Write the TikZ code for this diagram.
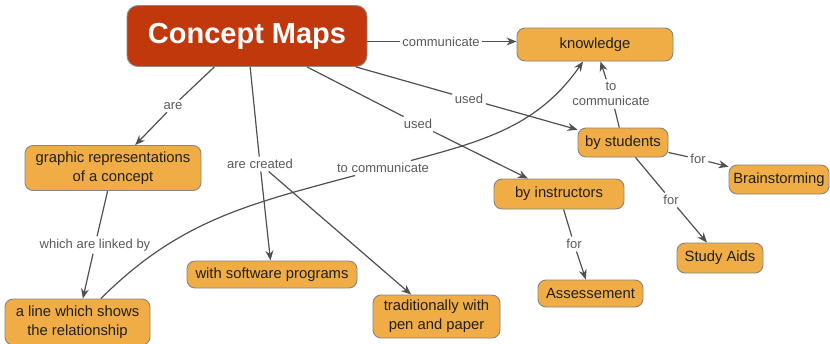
\documentclass[tikz,border=0pt]{standalone}
\usepackage{fontspec}
\setmainfont{Liberation Sans}
\usetikzlibrary{arrows.meta}
\definecolor{conc}{HTML}{F0AD45}
\definecolor{cmred}{HTML}{C1380C}
\definecolor{edgec}{HTML}{505050}
\definecolor{lbl}{HTML}{5A5A5A}
\definecolor{bord}{HTML}{858585}
\begin{document}
\begin{tikzpicture}[x=1pt,y=1pt,
 concept/.style={draw=bord, line width=0.9pt, fill=conc, rounded corners=8pt, inner sep=0pt, align=center, font=\fontsize{14.8}{19}\selectfont, text=black!88},
 link/.style={inner sep=2.5pt, align=center, font=\fontsize{13}{15.5}\selectfont, text=lbl},
 conn/.style={draw=edgec, line width=1.2pt},
 arr/.style={conn, -{Stealth[length=10pt,width=8pt]}}
]
\fill[white] (0,0) rectangle (830,-343);
\useasboundingbox (0,0) rectangle (830,-343);
% concepts
\node[concept, minimum width=240, minimum height=61, fill=cmred, draw=black!45, rounded corners=11pt, text=white, font=\fontsize{29}{34}\selectfont\bfseries] (cm) at (247,-36) {Concept Maps};
\node[concept, minimum width=156, minimum height=33] (kn) at (595,-44.5) {knowledge};
\node[concept, minimum width=176, minimum height=45] (gr) at (113,-168) {graphic representations\\of a concept};
\node[concept, minimum width=145, minimum height=46] (al) at (77.5,-322) {a line which shows\\the relationship};
\node[concept, minimum width=170, minimum height=27] (sw) at (272,-274.5) {with software programs};
\node[concept, minimum width=127, minimum height=43] (tr) at (436.5,-316.5) {traditionally with\\pen and paper};
\node[concept, minimum width=90, minimum height=29] (st) at (623,-142.5) {by students};
\node[concept, minimum width=100, minimum height=29] (br) at (779,-179.5) {Brainstorming};
\node[concept, minimum width=130, minimum height=30] (ins) at (559,-194) {by instructors};
\node[concept, minimum width=86, minimum height=30] (sa) at (720,-258) {Study Aids};
\node[concept, minimum width=105, minimum height=27] (as) at (590.5,-293.5) {Assessement};
% linking phrases
\node[link] (l1) at (441,-41.5) {communicate};
\node[link] (l2) at (173,-106) {are};
\node[link] (l3) at (260,-164) {are created};
\node[link] (l4) at (418,-124) {used};
\node[link] (l5) at (469,-99) {used};
\node[link] (l6) at (95,-245) {which are linked by};
\node[link] (l7) at (383,-168) {to communicate};
\node[link] (l8) at (611,-94) {to\\communicate};
\node[link] (l9) at (698,-159) {for};
\node[link] (l10) at (671,-200) {for};
\node[link] (l11) at (574,-244) {for};
% connectors
\draw[conn] (cm.east |- l1) -- (l1); \draw[arr] (l1) -- (kn.west |- l1);
\draw[conn] (cm) -- (l2); \draw[arr] (l2) -- (gr);
\draw[conn] (cm) -- (l3); \draw[arr] (l3) -- (sw); \draw[arr] (l3) -- (tr);
\draw[conn] (cm) -- (l4); \draw[arr] (l4) -- (ins);
\draw[conn] (cm) -- (l5); \draw[arr] (l5) -- (st);
\draw[conn] (gr) -- (l6); \draw[arr] (l6) -- (al);
\draw[conn] (al) to[out=45,in=195] (l7);
\draw[arr] (l7) to[out=15,in=235] (kn);
\draw[conn] (st) -- (l8); \draw[arr] (l8) -- (kn);
\draw[conn] (st) -- (l9); \draw[arr] (l9) -- (br);
\draw[conn] (st) -- (l10); \draw[arr] (l10) -- (sa);
\draw[conn] (ins) -- (l11); \draw[arr] (l11) -- (as);
\end{tikzpicture}
\end{document}
